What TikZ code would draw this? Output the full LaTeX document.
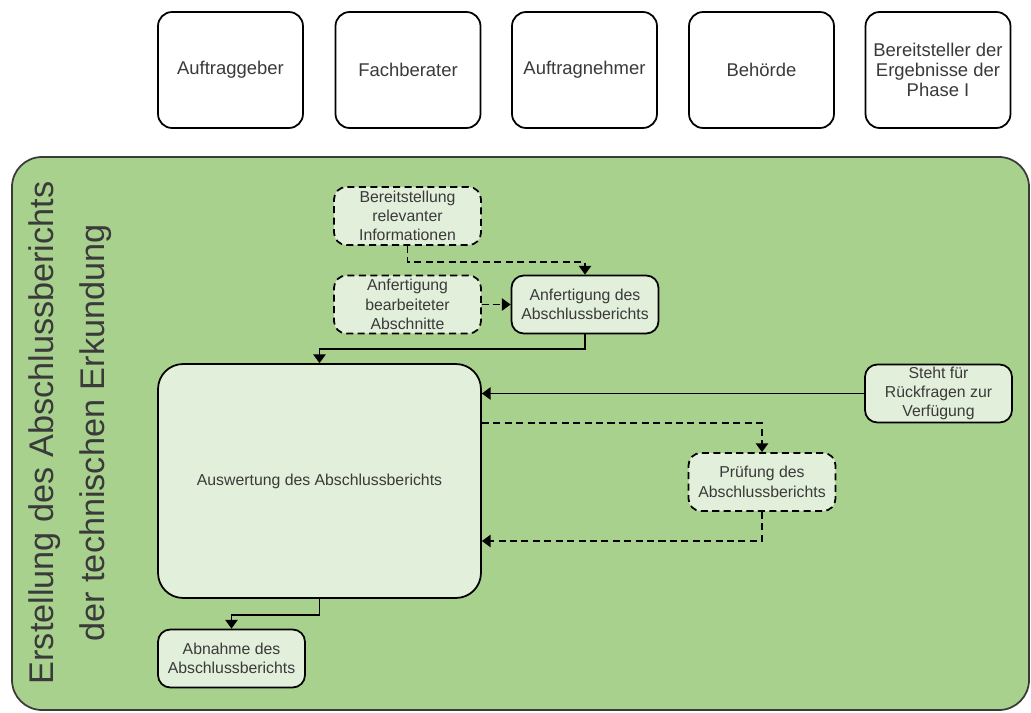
\documentclass[tikz,border=0pt]{standalone}
\usepackage{fontspec}
\setmainfont{Liberation Sans}
\usetikzlibrary{arrows.meta}
\definecolor{panelgreen}{HTML}{A9D18E}
\definecolor{boxgreen}{HTML}{E2EFDA}
\definecolor{inkgrey}{HTML}{3A3A3A}

\tikzset{
  role/.style={draw, line width=1pt, rounded corners=8pt, fill=white, align=center,
    minimum width=2.9cm, minimum height=2.32cm, text=inkgrey, font=\fontsize{10.5}{11.5}\selectfont},
  task/.style={draw, line width=1pt, rounded corners=7pt, fill=boxgreen, align=center,
    minimum width=2.94cm, minimum height=1.16cm, text=inkgrey, font=\fontsize{9}{11}\selectfont,
    inner sep=1pt},
  optask/.style={task, dashed, dash pattern=on 4pt off 2.5pt},
  flow/.style={line width=1pt, -{Triangle[width=7pt,length=5pt]}},
  optflow/.style={flow, dash pattern=on 4pt off 2.5pt}
}

\begin{document}
\begin{tikzpicture}[x=0.02cm,y=-0.02cm]
\useasboundingbox (0,0) rectangle (1031,713);
% rollen
\node[role] (client) at (230.5,70) {Auftraggeber};
\node[role] (advisor) at (408,70) {Fachberater};
\node[role] (contractor) at (584.5,70) {Auftragnehmer};
\node[role] (authority) at (761.5,70) {Behörde};
\node[role] (provider) at (938,70) {Bereitsteller der\\Ergebnisse der\\Phase I};
% phase
\draw[draw=inkgrey, line width=1pt, fill=panelgreen, rounded corners=0.6cm] (12,157) rectangle (1029,710);
\node[rotate=90, align=center, text=inkgrey, font=\fontsize{19.5}{29}\selectfont] (title) at (70,433)
  {Erstellung des Abschlussberichts\\der technischen Erkundung};
\node[optask] (info) at (407.5,216) {Bereitstellung\\relevanter\\Informationen};
\node[optask] (sections) at (407.5,304.5) {Anfertigung\\bearbeiteter\\Abschnitte};
\node[task] (report) at (585,304.5) {Anfertigung des\\Abschlussberichts};
\node[task, minimum width=6.46cm, minimum height=4.68cm, rounded corners=0.5cm] (eval) at (319.5,481)
  {Auswertung des Abschlussberichts};
\node[task] (ask) at (938.5,393.5) {Steht für\\Rückfragen zur\\Verfügung};
\node[optask] (check) at (762,482) {Prüfung des\\Abschlussberichts};
\node[task] (accept) at (231.5,658.5) {Abnahme des\\Abschlussberichts};
% pfeile
\draw[optflow] (info.south) -- ++(0,16) -| (report.north);
\draw[optflow] (sections.east) -- (report.west);
\draw[flow] (report.south) -- ++(0,15) -| (eval.north);
\draw[flow] (ask.west) -- (eval.east |- ask.west);
\draw[optflow] (eval.east |- ask.south) -| (check.north);
\draw[optflow] (check.south) |- ([yshift=-1.2cm]eval.east);
\draw[flow] (eval.south) -- ++(0,16) -| (accept.north);
\end{tikzpicture}
\end{document}
